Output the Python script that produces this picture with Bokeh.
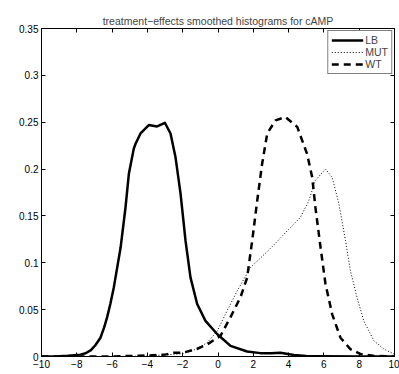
from bokeh.plotting import figure
from bokeh.models import Range1d, LinearAxis, Legend, LegendItem, FixedTicker
from bokeh.embed import file_html
from bokeh.resources import INLINE

# ---- data ----
lb_x = [-10, -9, -8.5, -7.8, -7.5, -7.2, -6.95, -6.66, -6.45, -6.28, -6.1, -5.9, -5.52, -5.24, -5.05,
        -4.77, -4.67, -4.39, -3.92, -3.45, -3.01, -2.69, -2.41, -2.12, -1.84, -1.56, -1.18, -0.71,
        -0.05, 0.71, 1.65, 2.4, 3.0, 3.54, 4.3, 5, 6, 8, 10]
lb_y = [0, 0.0003, 0.0008, 0.002, 0.0035, 0.0068, 0.012, 0.020, 0.031, 0.042, 0.056, 0.074, 0.116, 0.159, 0.195,
        0.222, 0.227, 0.238, 0.247, 0.2455, 0.2494, 0.238, 0.213, 0.1735, 0.1236, 0.0844, 0.056, 0.038,
        0.024, 0.0114, 0.0053, 0.0036, 0.0035, 0.004, 0.0015, 0.0005, 0.0002, 0, 0]

mut_x = [-10, -6, -4, -2, -1.2, -0.6, -0.05, 0.52, 1.09, 1.84, 2.4, 2.79, 3.16, 3.92, 4.67,
         5.14, 5.52, 6.09, 6.47, 6.85, 7.22, 7.5, 7.88, 8.26, 8.83, 9.4, 9.97]
mut_y = [0, 0, 0.0005, 0.003, 0.008, 0.015, 0.027, 0.049, 0.070, 0.095, 0.105, 0.112, 0.119, 0.134, 0.1486,
         0.166, 0.188, 0.200, 0.191, 0.163, 0.124, 0.0916, 0.063, 0.038, 0.0168, 0.0079, 0.0026]

wt_x = [-10, -6, -4.5, -4, -3, -2.5, -2, -1.2, -0.6, 0.14, 0.71, 1.27, 1.65, 1.94, 2.22, 2.5, 2.79,
        3.26, 3.82, 4.49, 5.05, 5.34, 5.52, 5.81, 6.09, 6.47, 6.94, 7.5, 8.07, 8.8, 10]
wt_y = [0, 0, 0.0008, 0.001, 0.002, 0.004, 0.004, 0.008, 0.013, 0.022, 0.042, 0.063, 0.084, 0.124, 0.166,
        0.2056, 0.238, 0.252, 0.2555, 0.245, 0.216, 0.191, 0.159, 0.1165, 0.0774, 0.045, 0.020,
        0.0079, 0.0026, 0.0007, 0]

x_ticks = [-10, -8, -6, -4, -2, 0, 2, 4, 6, 8, 10]
y_ticks = [0, 0.05, 0.1, 0.15, 0.2, 0.25, 0.3, 0.35]

FONT = "Liberation Sans"

p = figure(width=399, height=374, frame_width=353, frame_height=328,
           x_range=Range1d(-10, 10), y_range=Range1d(0, 0.35),
           output_backend="svg", toolbar_location=None,
           min_border_left=41, min_border_right=5, min_border_top=28, min_border_bottom=18,
           title="treatment\u2212effects smoothed histograms for cAMP")
p.title.text_font = FONT
p.title.text_font_size = "10.5px"
p.title.text_font_style = "normal"
p.title.align = "center"
p.title.offset = 0
p.title.standoff = 4

p.xgrid.visible = False
p.ygrid.visible = False
p.outline_line_color = "black"
p.outline_line_width = 1
p.background_fill_color = "white"
p.border_fill_color = "white"

def style_axis(ax):
    ax.major_tick_in = 4
    ax.major_tick_out = 0
    ax.minor_tick_in = 0
    ax.minor_tick_out = 0
    ax.axis_line_color = "black"
    ax.major_tick_line_color = "black"
    ax.major_label_text_font = FONT
    ax.major_label_text_font_size = "10px"
    ax.major_label_text_color = "black"
    ax.major_label_standoff = 3

p.xaxis.ticker = FixedTicker(ticks=x_ticks)
p.yaxis.ticker = FixedTicker(ticks=y_ticks)
p.xaxis.major_label_overrides = {t: ("\u2212" + str(abs(t)) if t < 0 else str(t)) for t in x_ticks}
p.yaxis.major_label_overrides = {t: ("0" if t == 0 else ("%g" % t)) for t in y_ticks}
style_axis(p.xaxis[0])
style_axis(p.yaxis[0])

top = LinearAxis(ticker=FixedTicker(ticks=x_ticks))
style_axis(top)
top.major_label_overrides = {t: "" for t in x_ticks}
p.add_layout(top, "above")
right = LinearAxis(ticker=FixedTicker(ticks=y_ticks))
style_axis(right)
right.major_label_overrides = {t: "" for t in y_ticks}
p.add_layout(right, "right")

r_lb = p.line(lb_x, lb_y, line_color="black", line_width=2.5, line_join="round")
r_mut = p.line(mut_x, mut_y, line_color="black", line_width=1, line_dash="1 2", line_join="round")
r_wt = p.line(wt_x, wt_y, line_color="black", line_width=2.5, line_dash="7 5", line_join="round")

legend = Legend(items=[LegendItem(label="LB", renderers=[r_lb]),
                       LegendItem(label="MUT", renderers=[r_mut]),
                       LegendItem(label="WT", renderers=[r_wt])],
                location="top_right")
legend.border_line_color = "black"
legend.border_line_width = 1
legend.label_text_font = FONT
legend.label_text_font_size = "10.5px"
legend.margin = 2
legend.padding = 3
legend.spacing = 0
legend.glyph_width = 32
legend.glyph_height = 12
legend.label_height = 12
legend.label_standoff = 2
legend.background_fill_alpha = 1
p.add_layout(legend)

open("out.html", "w").write(file_html(p, INLINE))
